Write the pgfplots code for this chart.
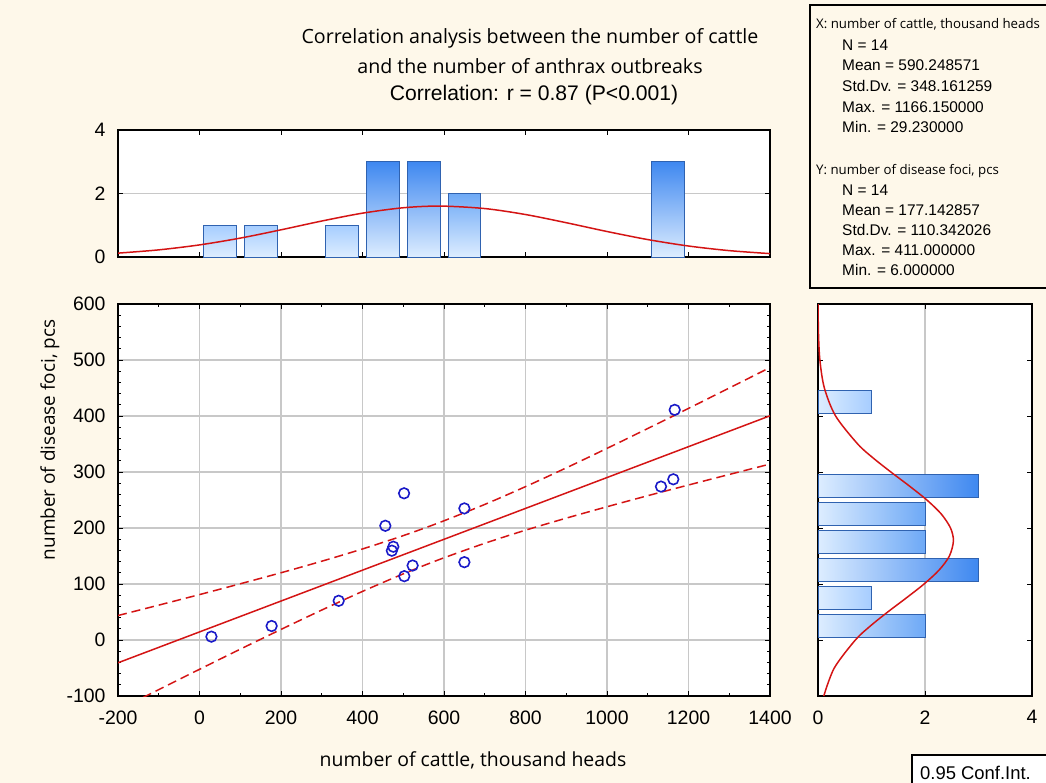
\documentclass[border=0pt]{standalone}
\usepackage{fontspec}
\setmainfont{Liberation Sans}
\newfontfamily\uifont{Open Sans}
\usepackage{pgfplots}
\pgfplotsset{compat=1.18}
\definecolor{bgcol}{HTML}{FEF8EA}
\definecolor{barlo}{HTML}{DDEDFF}
\definecolor{barone}{HTML}{A6CDFF}
\definecolor{bartwo}{HTML}{6EA9F6}
\definecolor{barthree}{HTML}{3F88F0}
\definecolor{baredge}{HTML}{2F62B0}
\definecolor{fitred}{HTML}{D41414}
\definecolor{ptblue}{HTML}{1A1AC8}
\definecolor{gridgray}{HTML}{C8C8C8}

\pgfplotsset{
  statframe/.style={
    scale only axis,
    axis background/.style={fill=white},
    axis line style={line width=1.4pt, black},
    tick align=inside,
    tick style={black, line width=1pt},
    major tick length=5bp,
    minor tick length=3bp,
    grid style={gridgray, line width=1.1pt},
    tick label style={font=\fontsize{19.5}{20}\selectfont},
    xticklabel style={yshift=-11bp},
    yticklabel style={xshift=-9bp},
    /pgf/number format/assume math mode=true,
    /pgf/number format/set thousands separator={},
    clip=true,
  },
}

\begin{document}
\begin{tikzpicture}
\clip (0,0) rectangle (1046bp,-783bp);
\fill[bgcol] (0,0) rectangle (1046bp,-783bp);

% title
\node[font=\uifont\fontsize{19.7}{22}\selectfont] at (530bp,-38bp) {Correlation analysis between the number of cattle};
\node[font=\uifont\fontsize{19.7}{22}\selectfont] at (530bp,-66bp) {and the number of anthrax outbreaks};
\node[font=\fontsize{21.2}{22}\selectfont] at (534bp,-95bp) {Correlation: r = 0.87 (P<0.001)};

% top histogram of X
\begin{axis}[statframe,
  at={(118bp,-257bp)}, anchor=south west,
  width=652bp, height=127bp,
  xmin=-200, xmax=1400, ymin=0, ymax=4,
  xtick={0,200,...,1200}, xticklabels={},
  ytick={0,2,4}, ymajorgrids,
  bar width=80,
]
\addplot[ybar, bar shift=0pt, draw=baredge, line width=0.8pt, bottom color=barlo, top color=barone]
  coordinates {(50,1) (150,1) (350,1)};
\addplot[ybar, bar shift=0pt, draw=baredge, line width=0.8pt, bottom color=barlo, top color=bartwo]
  coordinates {(650,2)};
\addplot[ybar, bar shift=0pt, draw=baredge, line width=0.8pt, bottom color=barlo, top color=barthree]
  coordinates {(450,3) (550,3) (1150,3)};
\addplot[fitred, line width=1.5pt, smooth, no marks] coordinates {
 (-200,0.122) (-100,0.225) (0,0.381) (100,0.595) (200,0.856) (300,1.133)
 (400,1.381) (500,1.551) (590,1.604) (700,1.526) (800,1.338) (900,1.080)
 (1000,0.803) (1100,0.549) (1200,0.346) (1300,0.201) (1400,0.107)};
\end{axis}

% scatter with regression and 0.95 confidence band
\begin{axis}[statframe,
  at={(118bp,-696bp)}, anchor=south west,
  width=652bp, height=392bp,
  xmin=-200, xmax=1400, ymin=-100, ymax=600,
  xtick={-200,0,...,1400}, ytick={-100,0,...,600},
  minor x tick num=1, minor y tick num=4,
  grid=major,
]
\addplot[fitred, line width=1.5pt, no marks] coordinates {(-200,-40.7) (1400,400.4)};
\addplot[fitred, line width=1.5pt, dash pattern=on 9bp off 5bp, smooth, no marks] coordinates {
 (-200,43.7) (-100,62.3) (0,81.1) (100,100.4) (200,120.1) (300,140.7) (400,162.6)
 (500,186.4) (590,210.1) (700,242.1) (800,273.9) (900,307.4) (1000,342.2)
 (1100,377.7) (1200,413.6) (1300,450.0) (1400,486.6)};
\addplot[fitred, line width=1.5pt, dash pattern=on 9bp off 5bp, smooth, no marks] coordinates {
 (-200,-125.1) (-100,-88.6) (0,-52.3) (100,-16.4) (200,18.9) (300,53.5) (400,86.8)
 (500,118.1) (590,144.1) (700,172.7) (800,196.1) (900,217.6) (1000,238.0)
 (1100,257.7) (1200,276.8) (1300,295.6) (1400,314.2)};
\addplot[only marks, mark=o, mark size=5.3bp, ptblue, line width=1.6pt] coordinates {
 (29.23,6) (177,25) (341.6,70) (456,204) (502,262) (475.6,166.6) (472,159.5)
 (523,133) (502.6,114) (650,235) (650,139) (1166.15,411) (1162.7,287) (1132.5,274)};
\end{axis}

% right histogram of Y
\begin{axis}[statframe,
  at={(818bp,-696bp)}, anchor=south west,
  width=214bp, height=392bp,
  xmin=0, xmax=4, ymin=-100, ymax=600,
  xtick={0,2,4}, xmajorgrids,
  ytick={0,100,...,500}, yticklabels={},
  bar width=41,
]
\addplot[xbar, bar shift=0pt, draw=baredge, line width=0.8pt, left color=barlo, right color=barone]
  coordinates {(1,75) (1,425)};
\addplot[xbar, bar shift=0pt, draw=baredge, line width=0.8pt, left color=barlo, right color=bartwo]
  coordinates {(2,25) (2,175) (2,225)};
\addplot[xbar, bar shift=0pt, draw=baredge, line width=0.8pt, left color=barlo, right color=barthree]
  coordinates {(3,125) (3,275)};
\addplot[fitred, line width=1.5pt, smooth, no marks] coordinates {
 (0.108,-100) (0.304,-50) (0.698,0) (0.978,25) (1.303,50) (1.649,75) (1.982,100)
 (2.264,125) (2.456,150) (2.531,177) (2.477,200) (2.304,225) (2.035,250)
 (1.708,275) (1.362,300) (1.031,325) (0.742,350) (0.329,400) (0.119,450)
 (0.035,500) (0.008,550) (0.002,600)};
\end{axis}

% axis titles
\node[font=\uifont\fontsize{19.5}{22}\selectfont] at (473bp,-760bp) {number of cattle, thousand heads};
\node[font=\uifont\fontsize{19}{22}\selectfont, rotate=90] at (50bp,-440bp) {number of disease foci, pcs};

% descriptive statistics box
\draw[line width=1.3pt, fill=bgcol] (810bp,-5bp) rectangle (1070bp,-288bp);
\begin{scope}[every node/.style={anchor=west, inner sep=0pt, font=\fontsize{15.5}{17}\selectfont}]
\node[font=\uifont\fontsize{13.3}{16}\selectfont] at (816bp,-24bp) {X: number of cattle, thousand heads};
\node at (842bp,-45bp) {N = 14};
\node at (842bp,-65bp) {Mean = 590.248571};
\node at (842bp,-86bp) {Std.Dv. = 348.161259};
\node at (842bp,-107bp) {Max. = 1166.150000};
\node at (842bp,-127bp) {Min. = 29.230000};
\node[font=\uifont\fontsize{13.3}{16}\selectfont] at (816bp,-171bp) {Y: number of disease foci, pcs};
\node at (842bp,-190bp) {N = 14};
\node at (842bp,-210bp) {Mean = 177.142857};
\node at (842bp,-230bp) {Std.Dv. = 110.342026};
\node at (842bp,-250bp) {Max. = 411.000000};
\node at (842bp,-270bp) {Min. = 6.000000};
\end{scope}

% confidence interval key
\draw[line width=1.3pt, fill=white] (912bp,-755bp) rectangle (1070bp,-795bp);
\node[anchor=west, inner sep=0pt, font=\fontsize{18.5}{20}\selectfont] at (920bp,-773bp) {0.95 Conf.Int.};
\end{tikzpicture}
\end{document}
